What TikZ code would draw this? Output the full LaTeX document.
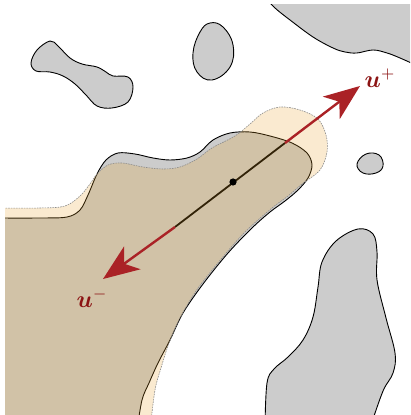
\documentclass[tikz,border=0pt]{standalone}
\usepackage{amsmath,amssymb,bm}
\usepackage{xcolor}
\usetikzlibrary{arrows.meta}

\definecolor{arrowred}{RGB}{170,34,38}
\definecolor{labelred}{RGB}{140,20,20}
\definecolor{tanfill}{RGB}{230,160,40}

\begin{document}
\begin{tikzpicture}[
    x=0.5pt, y=-0.5pt,
    obstacle/.style={
        fill=black!20,
        draw=black,
        line width=0.45pt
    },
    reach/.style={
        fill=tanfill,
        fill opacity=0.22,
        draw=black!45,
        draw opacity=1,
        line width=0.3pt,
        dash pattern=on 0.8pt off 0.5pt
    },
    dirarrow/.style={
        -{Stealth[length=18pt, width=14pt, inset=5pt]},
        draw=arrowred,
        fill=arrowred,
        line width=1.2pt
    },
    dirlabel/.style={
        text=labelred,
        font=\large,
        inner sep=1pt
    }
]

\useasboundingbox (0,0) rectangle (410,415);

\begin{scope}
\clip (5,5) rectangle (410,415);

% Obstacles
\draw [obstacle] plot[smooth cycle, tension=0.6] coordinates {
    (31,63) (37,50) (50,41) (58,46) (70,58) (82,64) (97,67) (106,72)
    (113,76) (128,77) (133,87) (128,102) (112,108) (97,106) (86,95)
    (75,84) (63,76) (50,72) (36,71)};
\draw [obstacle] plot[smooth cycle, tension=0.7] coordinates {
    (193,53) (200,32) (210,23) (223,27) (233,45) (230,67) (212,80) (197,72)};
\draw [obstacle] plot[smooth cycle, tension=0.7] coordinates {
    (357,164) (366,154) (379,155) (383,166) (376,173) (363,173)};
\draw [obstacle] plot[smooth, tension=0.6] coordinates {
    (265,-3) (275,8) (290,20) (313,37) (333,48) (345,52) (357,53)
    (373,50) (387,53) (400,58) (420,67)} -- (420,-10) -- (265,-10) -- cycle;
\draw [obstacle] plot[smooth, tension=0.6] coordinates {
    (265,425) (267,383) (274,369) (288,357) (303,340) (313,317) (318,287)
    (322,262) (336,241) (358,229) (373,234) (377,252) (377,280) (386,318)
    (395,353) (393,373) (383,391) (371,425)} -- cycle;

% Main free region
\draw [obstacle] plot[smooth, tension=0.55] coordinates {
    (-10,218) (40,218) (67,217) (80,210) (88,195) (97,174) (106,160)
    (118,153) (135,154) (153,158) (170,160) (187,158) (200,152) (213,140)
    (230,133) (250,132) (270,136) (292,143) (307,153) (312,165) (308,178)
    (298,190) (285,201) (270,212) (252,228) (228,253) (203,284) (183,313)
    (170,340) (158,363) (149,383) (142,400) (137,430)} -- (-10,430) -- cycle;

% Segment in the free region
\coordinate (c) at (233,182);
\coordinate (segtop) at (285,143);
\coordinate (segbot) at (175,227);
\draw [line width=0.9pt, black] (segbot) -- (segtop);

% Shifted region
\draw [reach] plot[smooth, tension=0.55] coordinates {
    (-10,208) (40,208) (65,206) (80,196) (90,184) (97,174) (108,165)
    (122,163) (143,167) (163,169) (180,167) (197,159) (212,148) (235,136)
    (250,124) (263,113) (280,107) (300,110) (318,119) (326,135) (327,152)
    (320,170) (302,184) (288,196) (272,208) (246,231) (222,258) (196,291)
    (178,322) (168,346) (161,368) (155,390) (150,430)} -- (-10,430) -- cycle;
\end{scope}

% Directions
\coordinate (tipplus) at (360,86);
\coordinate (tipminus) at (103,279);
\draw [dirarrow] (segtop) -- (tipplus);
\draw [dirarrow] (segbot) -- (tipminus);
\fill [black] (c) circle (1.8pt);

\node (uplus) at (380,78) [dirlabel] {$\bm{u}^{+}$};
\node (uminus) at (92,298) [dirlabel] {$\bm{u}^{-}$};

\end{tikzpicture}
\end{document}
